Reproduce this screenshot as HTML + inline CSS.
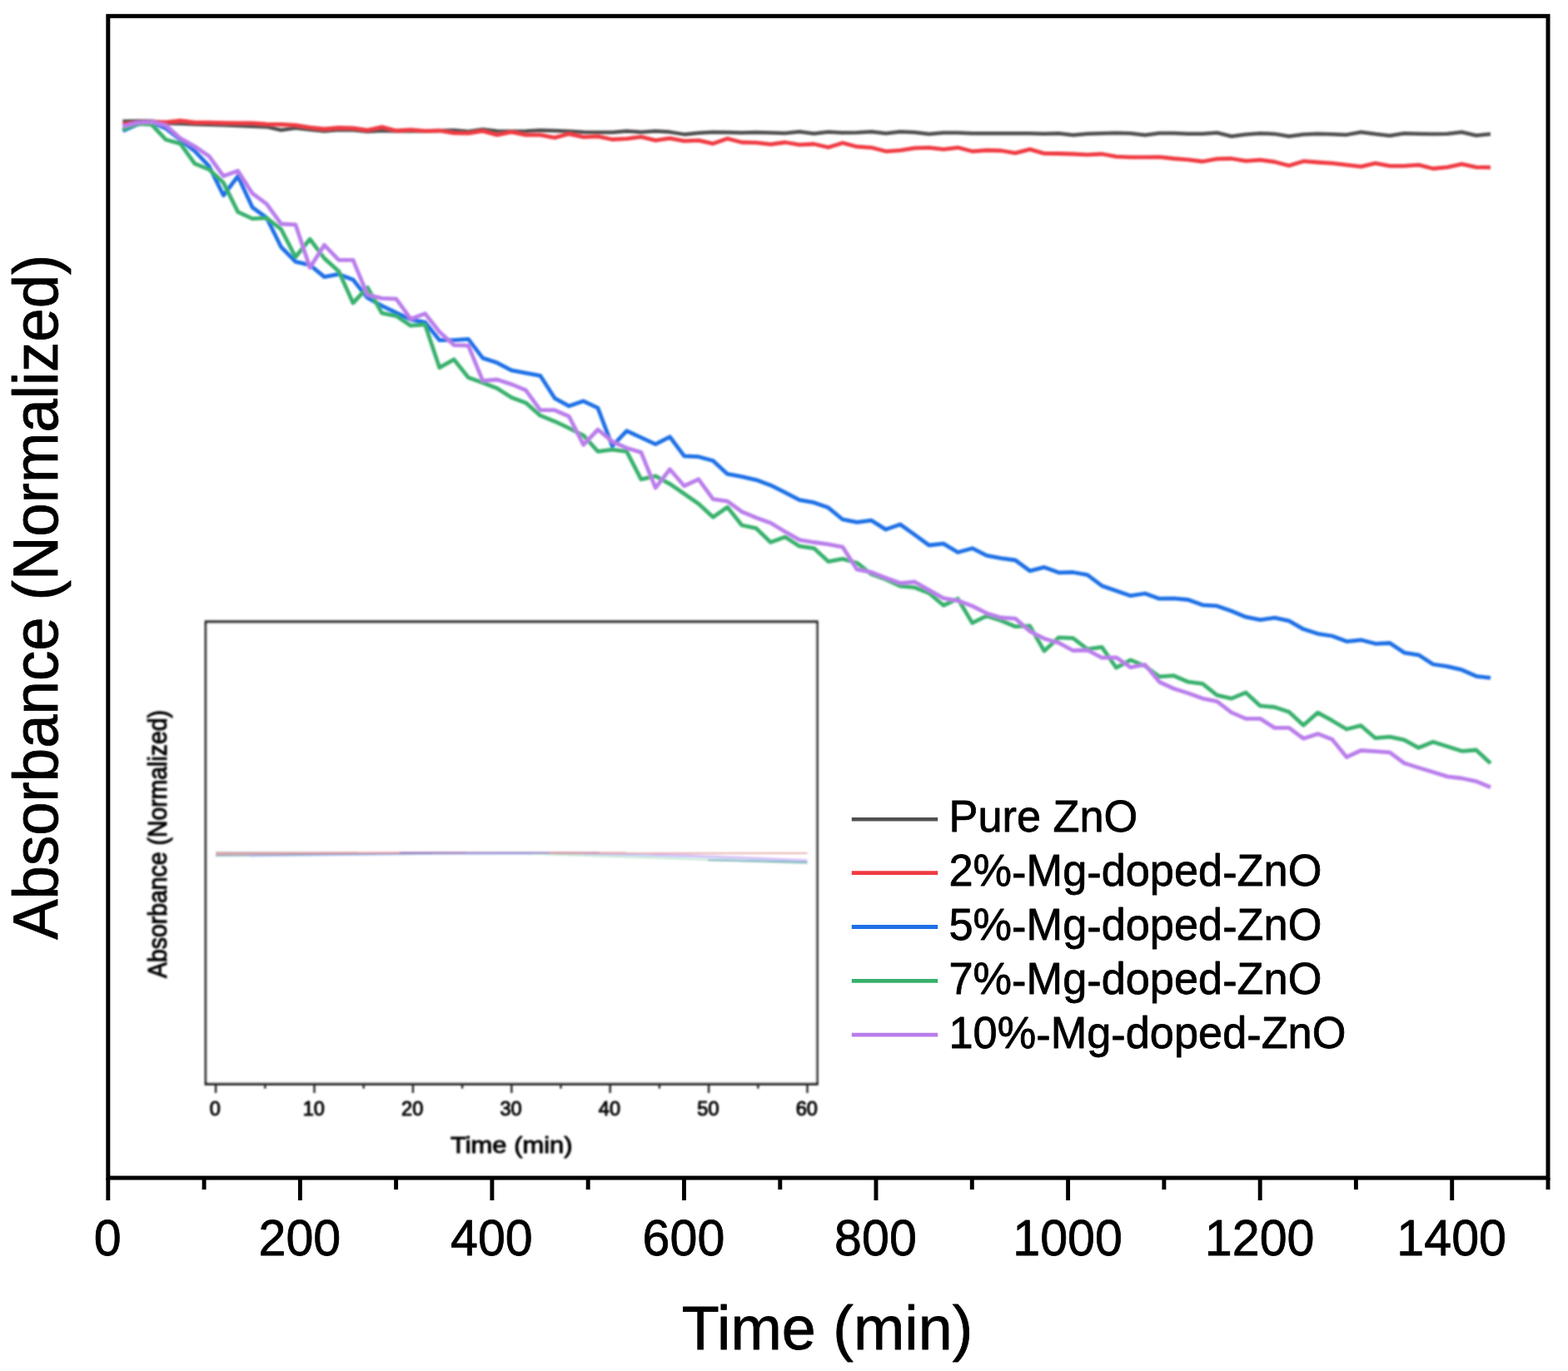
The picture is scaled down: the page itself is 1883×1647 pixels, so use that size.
<!DOCTYPE html>
<html lang="en">
<head>
<meta charset="utf-8">
<title>Absorbance (Normalized) vs Time (min)</title>
<style>
html,body{margin:0;padding:0;background:#fff;}
body{width:1883px;height:1647px;overflow:hidden;}
svg{display:block;}
text{font-family:"Liberation Sans",sans-serif;fill:#000;stroke:#000;stroke-width:0.8px;stroke-linejoin:round;}
.tick{font-size:62px;text-anchor:middle;}
.axl{font-size:73.5px;text-anchor:middle;}
.ayl{font-size:72.6px;text-anchor:middle;}
.leg{font-size:54.3px;}
.itick{font-size:24.5px;text-anchor:middle;fill:#000000;stroke:#000000;stroke-width:1.0px;}
.iaxl{font-size:28.4px;text-anchor:middle;fill:#000000;stroke:#000000;stroke-width:1.0px;}
.curve{fill:none;stroke-linejoin:round;stroke-linecap:butt;}
</style>
</head>
<body>
<svg width="1883" height="1647" viewBox="0 0 1883 1647" role="img" aria-label="Absorbance (Normalized) versus Time (min) for pure and Mg-doped ZnO">
<defs>
<filter id="softc" x="100" y="100" width="1740" height="900" filterUnits="userSpaceOnUse"><feGaussianBlur stdDeviation="0.8"/></filter>
<filter id="soft2" x="0" y="0" width="1883" height="1647" filterUnits="userSpaceOnUse"><feGaussianBlur stdDeviation="0.8"/></filter>
</defs>
<rect x="0" y="0" width="1883" height="1647" fill="#ffffff"/>
<g>
<g class="curves" filter="url(#softc)">
<polyline class="curve" stroke="#505050" stroke-width="4.5" points="147.4,145.8 164.7,145.5 182.0,145.5 199.3,147.9 216.6,148.6 233.8,149.3 251.1,149.7 268.4,150.3 285.7,151.0 303.0,151.7 320.3,152.4 337.6,156.3 354.9,153.8 372.2,155.8 389.5,157.4 406.8,155.9 424.0,156.3 441.3,158.0 458.6,157.0 475.9,157.5 493.2,157.5 510.5,157.5 527.8,157.0 545.1,156.6 562.4,157.9 579.7,155.4 597.0,157.4 614.2,157.8 631.5,157.4 648.8,156.6 666.1,157.0 683.4,157.8 700.7,158.7 718.0,159.0 735.3,159.0 752.6,157.4 769.9,158.7 787.2,157.4 804.4,158.6 821.7,161.4 839.0,159.8 856.3,158.7 873.6,159.0 890.9,159.5 908.2,159.0 925.5,159.5 942.8,160.1 960.1,158.3 977.4,160.4 994.7,158.4 1011.9,159.5 1029.2,159.2 1046.5,158.2 1063.8,160.3 1081.1,158.2 1098.4,159.0 1115.7,161.1 1133.0,159.5 1150.3,159.5 1167.6,160.3 1184.9,160.3 1202.1,160.3 1219.4,160.3 1236.7,160.3 1254.0,160.7 1271.3,160.3 1288.6,162.3 1305.9,160.7 1323.2,160.3 1340.5,159.8 1357.8,160.3 1375.1,162.2 1392.3,160.0 1409.6,160.0 1426.9,160.7 1444.2,160.7 1461.5,159.5 1478.8,163.8 1496.1,161.5 1513.4,160.3 1530.7,160.9 1548.0,163.7 1565.3,161.5 1582.5,160.7 1599.8,161.2 1617.1,161.9 1634.4,158.7 1651.7,161.1 1669.0,163.0 1686.3,160.3 1703.6,160.7 1720.9,161.1 1738.2,160.7 1755.5,158.7 1772.7,162.7 1790.0,161.1"/>
<polyline class="curve" stroke="#f03a42" stroke-width="4.8" points="147.4,149.5 164.7,147.1 182.0,146.3 199.3,146.8 216.6,145.0 233.8,147.1 251.1,147.1 268.4,147.6 285.7,147.9 303.0,147.9 320.3,149.2 337.6,149.5 354.9,150.3 372.2,153.1 389.5,155.0 406.8,153.5 424.0,154.0 441.3,156.3 458.6,152.7 475.9,157.0 493.2,155.8 510.5,157.4 527.8,157.0 545.1,159.8 562.4,160.1 579.7,157.4 597.0,162.2 614.2,158.7 631.5,162.2 648.8,162.2 666.1,165.4 683.4,160.8 700.7,164.6 718.0,163.8 735.3,167.5 752.6,166.7 769.9,164.3 787.2,168.6 804.4,166.2 821.7,169.4 839.0,168.6 856.3,172.6 873.6,166.5 890.9,171.0 908.2,171.3 925.5,173.4 942.8,171.0 960.1,173.8 977.4,173.0 994.7,177.0 1011.9,171.7 1029.2,176.2 1046.5,177.3 1063.8,181.8 1081.1,180.7 1098.4,177.8 1115.7,177.3 1133.0,179.4 1150.3,177.3 1167.6,181.8 1184.9,180.5 1202.1,181.0 1219.4,183.8 1236.7,179.4 1254.0,184.4 1271.3,184.5 1288.6,185.0 1305.9,185.8 1323.2,185.0 1340.5,188.1 1357.8,188.9 1375.1,188.9 1392.3,188.6 1409.6,190.5 1426.9,191.8 1444.2,194.0 1461.5,190.9 1478.8,190.5 1496.1,193.4 1513.4,192.1 1530.7,194.5 1548.0,199.0 1565.3,193.7 1582.5,195.0 1599.8,196.1 1617.1,198.2 1634.4,200.1 1651.7,196.1 1669.0,199.3 1686.3,199.3 1703.6,198.2 1720.9,202.5 1738.2,200.9 1755.5,197.2 1772.7,200.9 1790.0,201.2"/>
<polyline class="curve" stroke="#1f6fe6" stroke-width="4.8" points="147.4,157.4 164.7,149.5 182.0,146.8 199.3,154.3 216.6,167.8 233.8,181.3 251.1,199.7 268.4,234.7 285.7,211.6 303.0,249.0 320.3,261.8 337.6,296.8 354.9,314.4 372.2,318.3 389.5,332.7 406.8,329.4 424.0,336.1 441.3,357.7 458.6,367.3 475.9,375.6 493.2,383.9 510.5,387.1 527.8,408.7 545.1,408.7 562.4,407.4 579.7,430.1 597.0,435.8 614.2,444.9 631.5,448.1 648.8,451.3 666.1,478.3 683.4,487.8 700.7,481.8 718.0,490.2 735.3,535.9 752.6,517.6 769.9,525.6 787.2,533.6 804.4,524.8 821.7,547.9 839.0,548.7 856.3,553.5 873.6,569.4 890.9,572.6 908.2,576.6 925.5,582.9 942.8,591.7 960.1,600.7 977.4,603.7 994.7,609.8 1011.9,624.0 1029.2,627.3 1046.5,625.2 1063.8,636.1 1081.1,630.0 1098.4,642.4 1115.7,655.0 1133.0,653.1 1150.3,663.5 1167.6,658.7 1184.9,667.4 1202.1,670.6 1219.4,673.0 1236.7,685.8 1254.0,681.4 1271.3,687.8 1288.6,687.5 1305.9,690.7 1323.2,703.7 1340.5,709.8 1357.8,715.7 1375.1,713.0 1392.3,719.2 1409.6,718.9 1426.9,720.5 1444.2,726.8 1461.5,727.9 1478.8,734.0 1496.1,741.2 1513.4,744.7 1530.7,742.2 1548.0,745.9 1565.3,755.8 1582.5,761.3 1599.8,764.0 1617.1,770.6 1634.4,768.8 1651.7,773.3 1669.0,772.5 1686.3,784.1 1703.6,786.8 1720.9,798.0 1738.2,800.7 1755.5,804.7 1772.7,812.3 1790.0,814.4"/>
<polyline class="curve" stroke="#37b06c" stroke-width="4.8" points="147.4,155.8 164.7,148.7 182.0,149.5 199.3,167.8 216.6,172.6 233.8,196.5 251.1,203.6 268.4,219.6 285.7,254.6 303.0,262.6 320.3,261.8 337.6,275.3 354.9,308.8 372.2,287.3 389.5,310.4 406.8,326.0 424.0,364.0 441.3,345.3 458.6,376.1 475.9,379.6 493.2,391.2 510.5,389.9 527.8,441.7 545.1,431.8 562.4,453.6 579.7,459.7 597.0,466.4 614.2,477.5 631.5,483.9 648.8,499.1 666.1,506.2 683.4,514.3 700.7,523.2 718.0,542.3 735.3,540.2 752.6,542.3 769.9,575.8 787.2,571.8 804.4,581.3 821.7,593.3 839.0,605.2 856.3,621.2 873.6,609.2 890.9,631.0 908.2,634.7 925.5,651.4 942.8,645.1 960.1,656.2 977.4,658.6 994.7,674.6 1011.9,671.4 1029.2,676.2 1046.5,689.8 1063.8,696.1 1081.1,704.1 1098.4,705.7 1115.7,712.4 1133.0,727.2 1150.3,719.2 1167.6,748.4 1184.9,739.9 1202.1,745.5 1219.4,752.7 1236.7,751.9 1254.0,782.0 1271.3,765.9 1288.6,766.7 1305.9,779.9 1323.2,777.3 1340.5,802.2 1357.8,792.9 1375.1,800.1 1392.3,812.9 1409.6,811.7 1426.9,819.2 1444.2,821.3 1461.5,835.2 1478.8,839.1 1496.1,832.0 1513.4,847.9 1530.7,849.5 1548.0,855.3 1565.3,871.3 1582.5,856.1 1599.8,865.7 1617.1,876.0 1634.4,871.7 1651.7,886.7 1669.0,885.1 1686.3,888.8 1703.6,898.3 1720.9,891.2 1738.2,896.7 1755.5,902.3 1772.7,901.0 1790.0,917.0"/>
<polyline class="curve" stroke="#b97deb" stroke-width="4.8" points="147.4,151.9 164.7,147.4 182.0,146.3 199.3,150.6 216.6,166.2 233.8,175.8 251.1,187.7 268.4,211.6 285.7,205.2 303.0,232.3 320.3,245.1 337.6,269.0 354.9,269.8 372.2,321.5 389.5,294.4 406.8,312.3 424.0,312.3 441.3,354.1 458.6,358.4 475.9,359.2 493.2,383.2 510.5,376.7 527.8,398.7 545.1,414.6 562.4,415.1 579.7,457.3 597.0,456.0 614.2,461.6 631.5,468.8 648.8,492.7 666.1,492.7 683.4,500.3 700.7,534.3 718.0,516.0 735.3,530.4 752.6,538.3 769.9,543.4 787.2,586.1 804.4,563.8 821.7,583.7 839.0,575.8 856.3,599.7 873.6,602.1 890.9,614.8 908.2,622.0 925.5,628.3 942.8,638.7 960.1,648.7 977.4,651.5 994.7,653.9 1011.9,657.1 1029.2,684.2 1046.5,687.4 1063.8,694.2 1081.1,700.6 1098.4,699.0 1115.7,708.9 1133.0,718.7 1150.3,721.6 1167.6,728.0 1184.9,736.7 1202.1,742.0 1219.4,743.1 1236.7,758.3 1254.0,767.2 1271.3,772.2 1288.6,781.5 1305.9,781.0 1323.2,790.1 1340.5,789.8 1357.8,801.7 1375.1,798.5 1392.3,819.2 1409.6,827.2 1426.9,832.8 1444.2,839.1 1461.5,842.6 1478.8,855.9 1496.1,863.4 1513.4,863.4 1530.7,874.4 1548.0,874.4 1565.3,887.2 1582.5,881.6 1599.8,888.3 1617.1,909.5 1634.4,901.5 1651.7,902.6 1669.0,903.9 1686.3,916.7 1703.6,922.2 1720.9,927.5 1738.2,932.9 1755.5,935.0 1772.7,938.6 1790.0,945.7"/>
</g>
<g stroke="#000" stroke-width="5.0" fill="none" stroke-linecap="butt">
<rect x="129.8" y="19.3" width="1729.2" height="1395.7"/>
<line x1="129.8" y1="1415.0" x2="129.8" y2="1442.0" stroke-width="4.9"/>
<line x1="245.1" y1="1415.0" x2="245.1" y2="1429.0" stroke-width="4.9"/>
<line x1="360.4" y1="1415.0" x2="360.4" y2="1442.0" stroke-width="4.9"/>
<line x1="475.6" y1="1415.0" x2="475.6" y2="1429.0" stroke-width="4.9"/>
<line x1="590.9" y1="1415.0" x2="590.9" y2="1442.0" stroke-width="4.9"/>
<line x1="706.2" y1="1415.0" x2="706.2" y2="1429.0" stroke-width="4.9"/>
<line x1="821.5" y1="1415.0" x2="821.5" y2="1442.0" stroke-width="4.9"/>
<line x1="936.8" y1="1415.0" x2="936.8" y2="1429.0" stroke-width="4.9"/>
<line x1="1052.0" y1="1415.0" x2="1052.0" y2="1442.0" stroke-width="4.9"/>
<line x1="1167.3" y1="1415.0" x2="1167.3" y2="1429.0" stroke-width="4.9"/>
<line x1="1282.6" y1="1415.0" x2="1282.6" y2="1442.0" stroke-width="4.9"/>
<line x1="1397.9" y1="1415.0" x2="1397.9" y2="1429.0" stroke-width="4.9"/>
<line x1="1513.2" y1="1415.0" x2="1513.2" y2="1442.0" stroke-width="4.9"/>
<line x1="1628.4" y1="1415.0" x2="1628.4" y2="1429.0" stroke-width="4.9"/>
<line x1="1743.7" y1="1415.0" x2="1743.7" y2="1442.0" stroke-width="4.9"/>
<line x1="1859.0" y1="1415.0" x2="1859.0" y2="1429.0" stroke-width="4.9"/>
</g>
<g>
<text class="tick" transform="translate(129.3,1508.3) scale(0.955,1)">0</text>
<text class="tick" transform="translate(359.9,1508.3) scale(0.955,1)">200</text>
<text class="tick" transform="translate(590.4,1508.3) scale(0.955,1)">400</text>
<text class="tick" transform="translate(821.0,1508.3) scale(0.955,1)">600</text>
<text class="tick" transform="translate(1051.5,1508.3) scale(0.955,1)">800</text>
<text class="tick" transform="translate(1282.1,1508.3) scale(0.955,1)">1000</text>
<text class="tick" transform="translate(1512.7,1508.3) scale(0.955,1)">1200</text>
<text class="tick" transform="translate(1743.2,1508.3) scale(0.955,1)">1400</text>
</g>
<text class="axl" transform="translate(993.5,1621) scale(1.003,1.012)">Time (min)</text>
<text class="ayl" transform="translate(69.4,717.3) rotate(-90) scale(1,1.045)">Absorbance (Normalized)</text>
<g>
<line x1="1022.8" y1="984.2" x2="1126.2" y2="984.2" stroke="#505050" stroke-width="4.5"/>
<text class="leg" transform="translate(1139.5,999.3) scale(0.9636,1)">Pure ZnO</text>
<line x1="1022.8" y1="1048.6" x2="1126.2" y2="1048.6" stroke="#f03a42" stroke-width="4.8"/>
<text class="leg" transform="translate(1139.5,1064.1) scale(0.9636,1)">2%<tspan dy="2.3">-</tspan><tspan dy="-2.3">Mg</tspan><tspan dy="2.3">-</tspan><tspan dy="-2.3">doped</tspan><tspan dy="2.3">-</tspan><tspan dy="-2.3">ZnO</tspan></text>
<line x1="1022.8" y1="1113.5" x2="1126.2" y2="1113.5" stroke="#1f6fe6" stroke-width="4.8"/>
<text class="leg" transform="translate(1139.5,1129.0) scale(0.9636,1)">5%<tspan dy="2.3">-</tspan><tspan dy="-2.3">Mg</tspan><tspan dy="2.3">-</tspan><tspan dy="-2.3">doped</tspan><tspan dy="2.3">-</tspan><tspan dy="-2.3">ZnO</tspan></text>
<line x1="1022.8" y1="1178.3" x2="1126.2" y2="1178.3" stroke="#37b06c" stroke-width="4.8"/>
<text class="leg" transform="translate(1139.5,1193.8) scale(0.9636,1)">7%<tspan dy="2.3">-</tspan><tspan dy="-2.3">Mg</tspan><tspan dy="2.3">-</tspan><tspan dy="-2.3">doped</tspan><tspan dy="2.3">-</tspan><tspan dy="-2.3">ZnO</tspan></text>
<line x1="1022.8" y1="1243.2" x2="1126.2" y2="1243.2" stroke="#b97deb" stroke-width="4.8"/>
<text class="leg" transform="translate(1139.5,1258.7) scale(0.9636,1)">10%<tspan dy="2.3">-</tspan><tspan dy="-2.3">Mg</tspan><tspan dy="2.3">-</tspan><tspan dy="-2.3">doped</tspan><tspan dy="2.3">-</tspan><tspan dy="-2.3">ZnO</tspan></text>
</g>
</g>
<g filter="url(#soft2)">
<rect x="247.1" y="746.9" width="734.2" height="555.3" fill="#fff"/>
<g fill="none">
<line x1="245.7" y1="746.9" x2="982.6999999999999" y2="746.9" stroke="#4c4c4c" stroke-width="4.0"/>
<line x1="245.7" y1="1302.2" x2="982.6999999999999" y2="1302.2" stroke="#303030" stroke-width="3.4"/>
<line x1="247.1" y1="746.9" x2="247.1" y2="1302.2" stroke="#1c1c1c" stroke-width="2.8"/>
<line x1="981.3" y1="746.9" x2="981.3" y2="1302.2" stroke="#1c1c1c" stroke-width="2.8"/>
<line x1="259.1" y1="1302.2" x2="259.1" y2="1313.0" stroke="#2c2c2c" stroke-width="2.5"/>
<line x1="318.3" y1="1302.2" x2="318.3" y2="1307.7" stroke="#2c2c2c" stroke-width="2.5"/>
<line x1="377.5" y1="1302.2" x2="377.5" y2="1313.0" stroke="#2c2c2c" stroke-width="2.5"/>
<line x1="436.7" y1="1302.2" x2="436.7" y2="1307.7" stroke="#2c2c2c" stroke-width="2.5"/>
<line x1="495.9" y1="1302.2" x2="495.9" y2="1313.0" stroke="#2c2c2c" stroke-width="2.5"/>
<line x1="555.1" y1="1302.2" x2="555.1" y2="1307.7" stroke="#2c2c2c" stroke-width="2.5"/>
<line x1="614.3" y1="1302.2" x2="614.3" y2="1313.0" stroke="#2c2c2c" stroke-width="2.5"/>
<line x1="673.5" y1="1302.2" x2="673.5" y2="1307.7" stroke="#2c2c2c" stroke-width="2.5"/>
<line x1="732.7" y1="1302.2" x2="732.7" y2="1313.0" stroke="#2c2c2c" stroke-width="2.5"/>
<line x1="791.9" y1="1302.2" x2="791.9" y2="1307.7" stroke="#2c2c2c" stroke-width="2.5"/>
<line x1="851.1" y1="1302.2" x2="851.1" y2="1313.0" stroke="#2c2c2c" stroke-width="2.5"/>
<line x1="910.3" y1="1302.2" x2="910.3" y2="1307.7" stroke="#2c2c2c" stroke-width="2.5"/>
<line x1="969.5" y1="1302.2" x2="969.5" y2="1313.0" stroke="#2c2c2c" stroke-width="2.5"/>
</g>
<g>
<text class="itick" transform="translate(258.4,1340.4) scale(0.965,1)">0</text>
<text class="itick" transform="translate(376.8,1340.4) scale(0.965,1)">10</text>
<text class="itick" transform="translate(495.2,1340.4) scale(0.965,1)">20</text>
<text class="itick" transform="translate(613.6,1340.4) scale(0.965,1)">30</text>
<text class="itick" transform="translate(732.0,1340.4) scale(0.965,1)">40</text>
<text class="itick" transform="translate(850.4,1340.4) scale(0.965,1)">50</text>
<text class="itick" transform="translate(968.8,1340.4) scale(0.965,1)">60</text>
</g>
<text class="iaxl" transform="translate(614.3,1385.3) scale(1.09,1)">Time (min)</text>
<text class="iaxl" transform="translate(200.4,1014) rotate(-90) scale(1,1.09)">Absorbance (Normalized)</text>
<g fill="none">
<polyline stroke="#b0b0b0" stroke-width="1.8" stroke-opacity="0.9" points="259.0,1024.0 430.0,1024.3"/>
<polyline stroke="#62a4b4" stroke-width="2.0" stroke-opacity="0.9" points="259.0,1027.9 400.0,1026.6 520.0,1025.2"/>
<polyline stroke="#94aeee" stroke-width="1.8" stroke-opacity="0.8" points="300.0,1028.3 520.0,1025.9 700.0,1025.6"/>
<polyline stroke="#bfe6d2" stroke-width="2.0" stroke-opacity="1.0" points="640.0,1025.8 800.0,1031.0 969.5,1037.3"/>
<polyline stroke="#aab4f4" stroke-width="2.0" stroke-opacity="0.9" points="700.0,1025.4 850.0,1029.5 969.5,1034.0"/>
<polyline stroke="#e2c0f6" stroke-width="1.8" stroke-opacity="0.9" points="780.0,1025.5 900.0,1030.0 969.5,1033.0"/>
<polyline stroke="#6aa8bc" stroke-width="2.2" stroke-opacity="0.9" points="850.0,1033.2 969.5,1036.0"/>
<polyline stroke="#e58c96" stroke-width="2.2" stroke-opacity="0.9" points="259.0,1025.6 420.0,1024.6 560.0,1024.3"/>
<polyline stroke="#9076c4" stroke-width="2.2" stroke-opacity="0.9" points="480.0,1024.4 620.0,1024.3 720.0,1024.4"/>
<polyline stroke="#e59a9a" stroke-width="2.4" stroke-opacity="0.9" points="660.0,1024.5 969.5,1024.8"/>
</g>
</g>
</svg>
</body>
</html>
